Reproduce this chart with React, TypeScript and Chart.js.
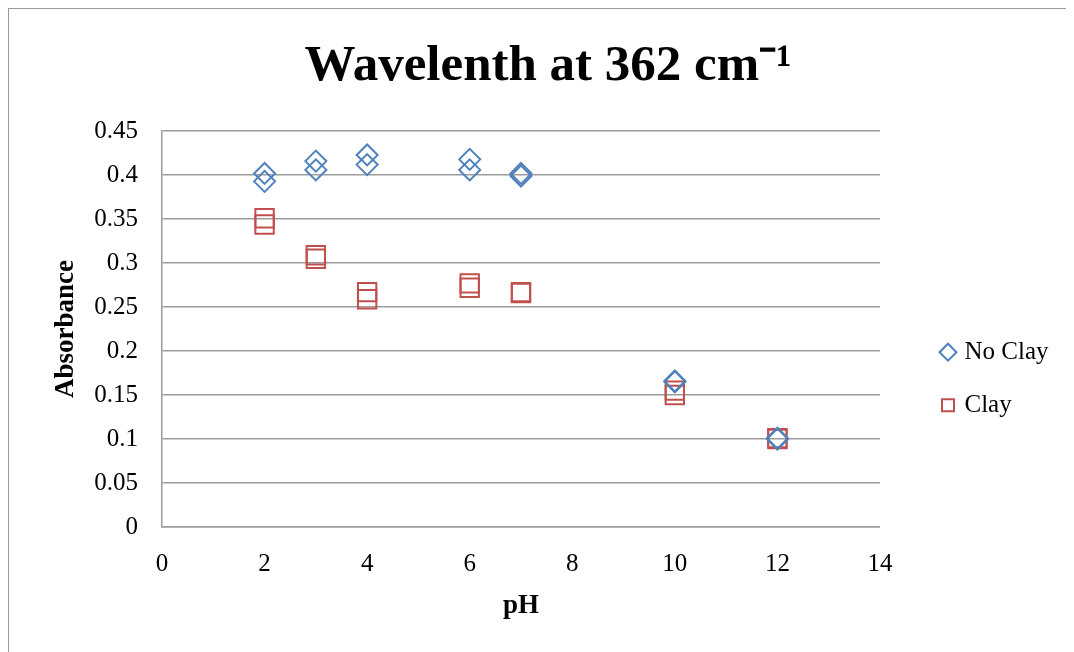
import React, { useEffect, useRef } from 'react';
import { Chart, registerables } from 'chart.js';

Chart.register(...registerables);

const TITLE = 'Wavelenth at 362 cm⁻¹';
const X_TITLE = 'pH';
const Y_TITLE = 'Absorbance';
const seriesNames = ['No Clay', 'Clay'];

const noClayPH = [2, 2, 3, 3, 4, 4, 6, 6, 7, 7, 10, 10, 12, 12];
const noClayAbs = [0.402, 0.393, 0.416, 0.406, 0.423, 0.412, 0.418, 0.406, 0.402, 0.399, 0.166, 0.165, 0.101, 0.1];

const clayPH = [2, 2, 3, 3, 4, 4, 6, 6, 7, 7, 10, 10, 12, 12];
const clayAbs = [0.351, 0.344, 0.309, 0.305, 0.267, 0.259, 0.277, 0.272, 0.267, 0.266, 0.155, 0.15, 0.101, 0.1];

const xTickValues = [0, 2, 4, 6, 8, 10, 12, 14];
const xTickLabels = ['0', '2', '4', '6', '8', '10', '12', '14'];
const yTickValues = [0, 0.05, 0.1, 0.15, 0.2, 0.25, 0.3, 0.35, 0.4, 0.45];
const yTickLabels = ['0', '0.05', '0.1', '0.15', '0.2', '0.25', '0.3', '0.35', '0.4', '0.45'];

const FONT = "'Liberation Serif', 'Times New Roman', serif";
const GRID = '#9c9c9c';

export default function App() {
  const ref = useRef<HTMLCanvasElement>(null);

  useEffect(() => {
    document.documentElement.style.overflow = 'hidden';
    const canvas = ref.current;
    if (!canvas) return;
    const chart = new Chart(canvas, {
      type: 'scatter',
      data: {
        datasets: [
          {
            label: seriesNames[0],
            data: noClayPH.map((x, i) => ({ x, y: noClayAbs[i] })),
            pointStyle: 'rectRot',
            pointRadius: 10.5,
            pointHoverRadius: 10.5,
            borderColor: '#4F81BD',
            backgroundColor: 'rgba(0,0,0,0)',
            borderWidth: 2,
            xAxisID: 'x',
            yAxisID: 'y',
          },
          {
            label: seriesNames[1],
            data: clayPH.map((x, i) => ({ x, y: clayAbs[i] })),
            pointStyle: 'rect',
            pointRadius: 13,
            pointHoverRadius: 13,
            borderColor: '#C0504D',
            backgroundColor: 'rgba(0,0,0,0)',
            borderWidth: 2,
            xAxisID: 'x',
            yAxisID: 'y',
          },
        ],
      },
      options: {
        responsive: false,
        animation: false,
        devicePixelRatio: 1,
        events: [],
        layout: { padding: { left: 28.5, right: 15.5, top: 0, bottom: 0 } },
        plugins: {
          title: {
            display: true,
            text: TITLE,
            color: '#000',
            font: { family: FONT, size: 51, weight: 'bold', lineHeight: 1.2 },
            padding: { top: 27, bottom: 34 },
          },
          legend: {
            display: true,
            position: 'right',
            align: 'start',
            fullSize: false,
            title: {
              display: true,
              text: ' ',
              font: { family: FONT, size: 10, lineHeight: 1.2 },
              padding: { top: 168.5, bottom: 0 },
            },
            labels: {
              usePointStyle: true,
              boxWidth: 8,
              boxHeight: 12,
              padding: 28,
              color: '#000',
              font: { family: FONT, size: 25 },
            },
          },
          tooltip: { enabled: false },
        },
        scales: {
          x: {
            type: 'linear',
            position: 'bottom',
            min: 0,
            max: 14,
            afterBuildTicks: (s: any) => {
              s.ticks = xTickValues.map((v) => ({ value: v }));
            },
            afterFit: (s: any) => {
              s.height = 114;
            },
            grid: { display: false, drawTicks: false },
            border: { display: true, color: GRID, width: 1.5 },
            ticks: {
              padding: 22.5,
              color: '#000',
              font: { family: FONT, size: 25 },
              autoSkip: false,
              maxRotation: 0,
              callback: (_v: any, i: number) => xTickLabels[i],
            },
            title: {
              display: true,
              text: X_TITLE,
              color: '#000',
              font: { family: FONT, size: 27, weight: 'bold', lineHeight: 1.2 },
              padding: { top: 0, bottom: 18.8 },
            },
          },
          y: {
            type: 'linear',
            position: 'left',
            min: 0,
            max: 0.45,
            afterBuildTicks: (s: any) => {
              s.ticks = yTickValues.map((v) => ({ value: v }));
            },
            afterFit: (s: any) => {
              s.width = 124.5;
            },
            grid: { display: true, color: GRID, lineWidth: 1.5, drawTicks: false },
            border: { display: true, color: GRID, width: 1.5 },
            ticks: {
              padding: 24,
              color: '#000',
              font: { family: FONT, size: 25 },
              autoSkip: false,
              callback: (_v: any, i: number) => yTickLabels[i],
            },
            title: {
              display: true,
              text: Y_TITLE,
              color: '#000',
              font: { family: FONT, size: 27, weight: 'bold', lineHeight: 1.2 },
              padding: { top: 12.5, bottom: 0 },
            },
          },
          yRight: {
            type: 'linear',
            position: 'right',
            display: true,
            afterFit: (s: any) => {
              s.width = 36;
            },
            grid: { display: false, drawTicks: false },
            border: { display: false },
            ticks: { display: false },
          },
        },
      } as any,
    });
    return () => chart.destroy();
  }, []);

  return (
    <div
      style={{
        marginTop: -1,
        marginLeft: -1,
        borderTop: '2px solid #999',
        borderLeft: '2px solid #999',
        width: 1080,
        height: 660,
        background: '#fff',
      }}
    >
      <canvas ref={ref} width={1065} height={632} style={{ display: 'block', width: 1065, height: 632 }} />
    </div>
  );
}
